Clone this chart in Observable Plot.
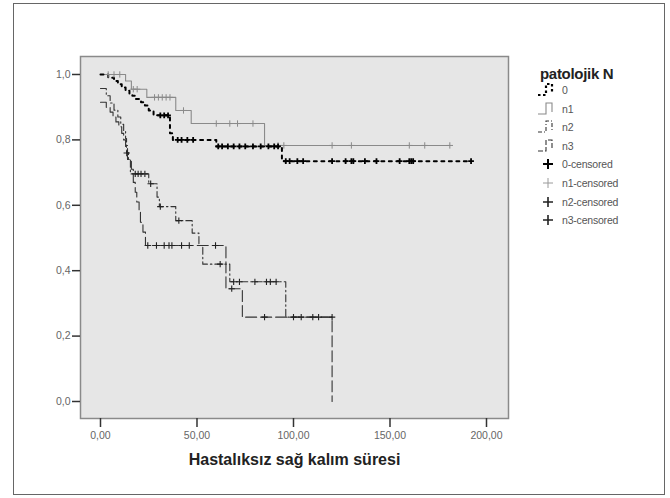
<!DOCTYPE html>
<html><head><meta charset="utf-8">
<script src="https://cdn.jsdelivr.net/npm/d3@7"></script>
<script src="https://cdn.jsdelivr.net/npm/@observablehq/plot@0.6"></script>
<style>
body{margin:0;background:#fff;}
#wrap{position:relative;width:670px;height:498px;font-family:"Liberation Sans",Arial,sans-serif;overflow:hidden}
#chart{position:absolute;left:0;top:0}
#border{position:absolute;left:13px;top:3px;width:652px;height:492px;border:1px solid #666;box-sizing:border-box;pointer-events:none}
#legend{position:absolute;left:0;top:0;width:670px;height:498px}
.lt{position:absolute;left:540px;font-weight:bold;font-size:15px;color:#222;line-height:16px;white-space:nowrap;letter-spacing:-0.3px}
.lr{position:absolute;left:536px;height:18px;display:flex;align-items:center;font-size:10.5px;color:#555;white-space:nowrap;letter-spacing:-0.2px}
.lr svg{margin-right:6px;flex:none}
</style></head><body>
<div id="wrap"><div id="chart"></div><div id="legend"></div><div id="border"></div></div>
<script>
// ---- data ----
const groups = ["0", "n1", "n2", "n3"];

const g0Times = [0, 4, 7, 9, 11, 13, 15, 16.5, 18, 21, 23, 25, 27.5, 36, 37.5, 60, 94];
const g0Surv  = [1.0, 0.99, 0.98, 0.97, 0.96, 0.95, 0.94, 0.935, 0.925, 0.915, 0.905, 0.89, 0.875, 0.82, 0.80, 0.78, 0.735];
const g0End = 192;
const g0Cens = [31, 33, 35, 40, 42, 45, 48, 61, 63, 66, 69, 72, 75, 79, 83, 87, 90, 92, 96, 98, 102, 105, 120, 127, 130, 131, 137, 143, 155, 160, 161, 162, 192];

const n1Times = [0, 13, 16, 24, 39, 47, 85];
const n1Surv  = [1.0, 0.98, 0.955, 0.93, 0.89, 0.85, 0.783];
const n1End = 181;
const n1Cens = [4, 7, 10, 17, 19, 28, 30, 32, 34, 36, 43, 60, 67, 71, 79, 92, 95, 120, 130, 160, 168, 181];

const n2Times = [0, 3, 5, 7, 9, 10.5, 12, 13, 13.5, 14, 14.5, 15.5, 25, 29.3, 30.5, 39, 47.5, 51, 53, 67, 96];
const n2Surv  = [0.957, 0.935, 0.913, 0.891, 0.87, 0.848, 0.826, 0.804, 0.783, 0.761, 0.739, 0.696, 0.666, 0.625, 0.596, 0.553, 0.515, 0.477, 0.42, 0.366, 0.258];
const n2End = 120;
const n2Cens = [18, 19.5, 21, 23, 26, 31, 40.6, 62, 69, 72, 80, 86, 88, 91, 104, 110, 113, 120];

const n3Times = [0, 3, 5, 6.5, 8, 9.5, 11, 12, 13, 13.5, 14, 16, 17, 18, 18.8, 20, 20.7, 22, 23.3, 65, 73.5, 120];
const n3Surv  = [0.915, 0.9, 0.885, 0.87, 0.855, 0.84, 0.82, 0.80, 0.78, 0.76, 0.74, 0.71, 0.67, 0.64, 0.61, 0.58, 0.548, 0.518, 0.477, 0.345, 0.258, 0];
const n3End = 120;
const n3Cens = [13.6, 24.5, 29, 33, 35.5, 37, 42, 46, 59.6, 68, 85, 100];

const xTicks = [0, 50, 100, 150, 200];
const yTicks = [0, 0.2, 0.4, 0.6, 0.8, 1.0];
const xTitle = "Hastalıksız sağ kalım süresi";
const legendTitle = "patolojik N";
const legendLabels = ["0", "n1", "n2", "n3", "0-censored", "n1-censored", "n2-censored", "n3-censored"];

// ---- helpers ----
function stepRows(group, times, surv, end) {
  const rows = times.map((t, i) => ({group, t, s: surv[i]}));
  if (end > times[times.length - 1]) rows.push({group, t: end, s: surv[surv.length - 1]});
  return rows;
}
function survAt(times, surv, t) {
  let s = surv[0];
  for (let i = 0; i < times.length; i++) if (times[i] <= t && surv[i] > 0) s = surv[i];
  return s;
}
function censRows(group, cens, times, surv) {
  return cens.map(t => ({group, t, s: survAt(times, surv, t)}));
}

const g0Rows = stepRows("0", g0Times, g0Surv, g0End);
const n1Rows = stepRows("n1", n1Times, n1Surv, n1End);
const n2Rows = stepRows("n2", n2Times, n2Surv, n2End);
const n3Rows = stepRows("n3", n3Times, n3Surv, n3End);
const g0C = censRows("0", g0Cens, g0Times, g0Surv);
const n1C = censRows("n1", n1Cens, n1Times, n1Surv);
const n2C = censRows("n2", n2Cens, n2Times, n2Surv);
const n3C = censRows("n3", n3Cens, n3Times, n3Surv);

const comma = (d, k) => d.toFixed(k).replace(".", ",");

const chart = Plot.plot({
  width: 670, height: 498,
  marginLeft: 80, marginRight: 162, marginTop: 56, marginBottom: 80,
  style: {fontFamily: "'Liberation Sans', Arial, sans-serif", background: "transparent"},
  x: {domain: [-10.36, 211.4]},
  y: {domain: [-0.052, 1.055]},
  marks: [
    Plot.frame({fill: "#e6e6e6", stroke: "#8a8a8a", strokeWidth: 1.5}),
    Plot.axisY({ticks: yTicks, tickFormat: d => comma(d, 1), tickSize: 8, tickPadding: 2, fontSize: 10.5, stroke: "#333", fill: "#666", strokeWidth: 1.5, label: null}),
    Plot.axisX({ticks: xTicks, tickFormat: d => comma(d, 2), tickSize: 9, tickPadding: 4, fontSize: 10.5, stroke: "#333", fill: "#666", strokeWidth: 1.5, label: null}),
    Plot.line(n1Rows, {x: "t", y: "s", curve: "step-after", stroke: "#8a8a8a", strokeWidth: 1.1}),
    Plot.line(n2Rows, {x: "t", y: "s", curve: "step-after", stroke: "#333", strokeWidth: 1.1, strokeDasharray: "7,3,1.5,3"}),
    Plot.line(n3Rows, {x: "t", y: "s", curve: "step-after", stroke: "#333", strokeWidth: 1.1, strokeDasharray: "11,4"}),
    Plot.line(g0Rows, {x: "t", y: "s", curve: "step-after", stroke: "#000", strokeWidth: 2, strokeDasharray: "3,4.5"}),
    Plot.dot(n1C, {x: "t", y: "s", symbol: "plus", r: 2.2, stroke: "#8a8a8a", strokeWidth: 1}),
    Plot.dot(n2C, {x: "t", y: "s", symbol: "plus", r: 2.2, stroke: "#222", strokeWidth: 1.1}),
    Plot.dot(n3C, {x: "t", y: "s", symbol: "plus", r: 2.2, stroke: "#222", strokeWidth: 1.1}),
    Plot.dot(g0C, {x: "t", y: "s", symbol: "plus", r: 2, stroke: "#000", strokeWidth: 1.8}),
    Plot.text([xTitle], {frameAnchor: "bottom", dy: 46, fontSize: 16, fontWeight: "bold", fill: "#222"})
  ]
});
document.getElementById("chart").appendChild(chart);

// ---- legend ----
const lineStyles = {
  "0":  {stroke: "#000", width: 2.2, dash: "2.5,2.5"},
  "n1": {stroke: "#8a8a8a", width: 1.1, dash: null},
  "n2": {stroke: "#333", width: 1.1, dash: "4,2,1,2"},
  "n3": {stroke: "#333", width: 1.1, dash: "5,2"}
};
const plusStyles = {
  "0-censored":  {stroke: "#000", width: 2},
  "n1-censored": {stroke: "#9a9a9a", width: 1},
  "n2-censored": {stroke: "#222", width: 1.6},
  "n3-censored": {stroke: "#222", width: 1.6}
};
const leg = document.getElementById("legend");
const title = document.createElement("div");
title.className = "lt"; title.style.top = "66px"; title.textContent = legendTitle;
leg.appendChild(title);
legendLabels.forEach((lab, i) => {
  const row = document.createElement("div");
  row.className = "lr";
  row.style.top = (81 + i * 18.6) + "px";
  let icon;
  if (lineStyles[lab]) {
    const st = lineStyles[lab];
    icon = `<svg width="20" height="18"><path d="M2,14H10V3H16V12" fill="none" stroke="${st.stroke}" stroke-width="${st.width}" ${st.dash ? `stroke-dasharray="${st.dash}"` : ""}/></svg>`;
  } else {
    const st = plusStyles[lab];
    icon = `<svg width="20" height="18"><path d="M7,9H17M12,4V14" fill="none" stroke="${st.stroke}" stroke-width="${st.width}"/></svg>`;
  }
  row.innerHTML = icon + `<span>${lab}</span>`;
  leg.appendChild(row);
});
</script>
</body></html>
